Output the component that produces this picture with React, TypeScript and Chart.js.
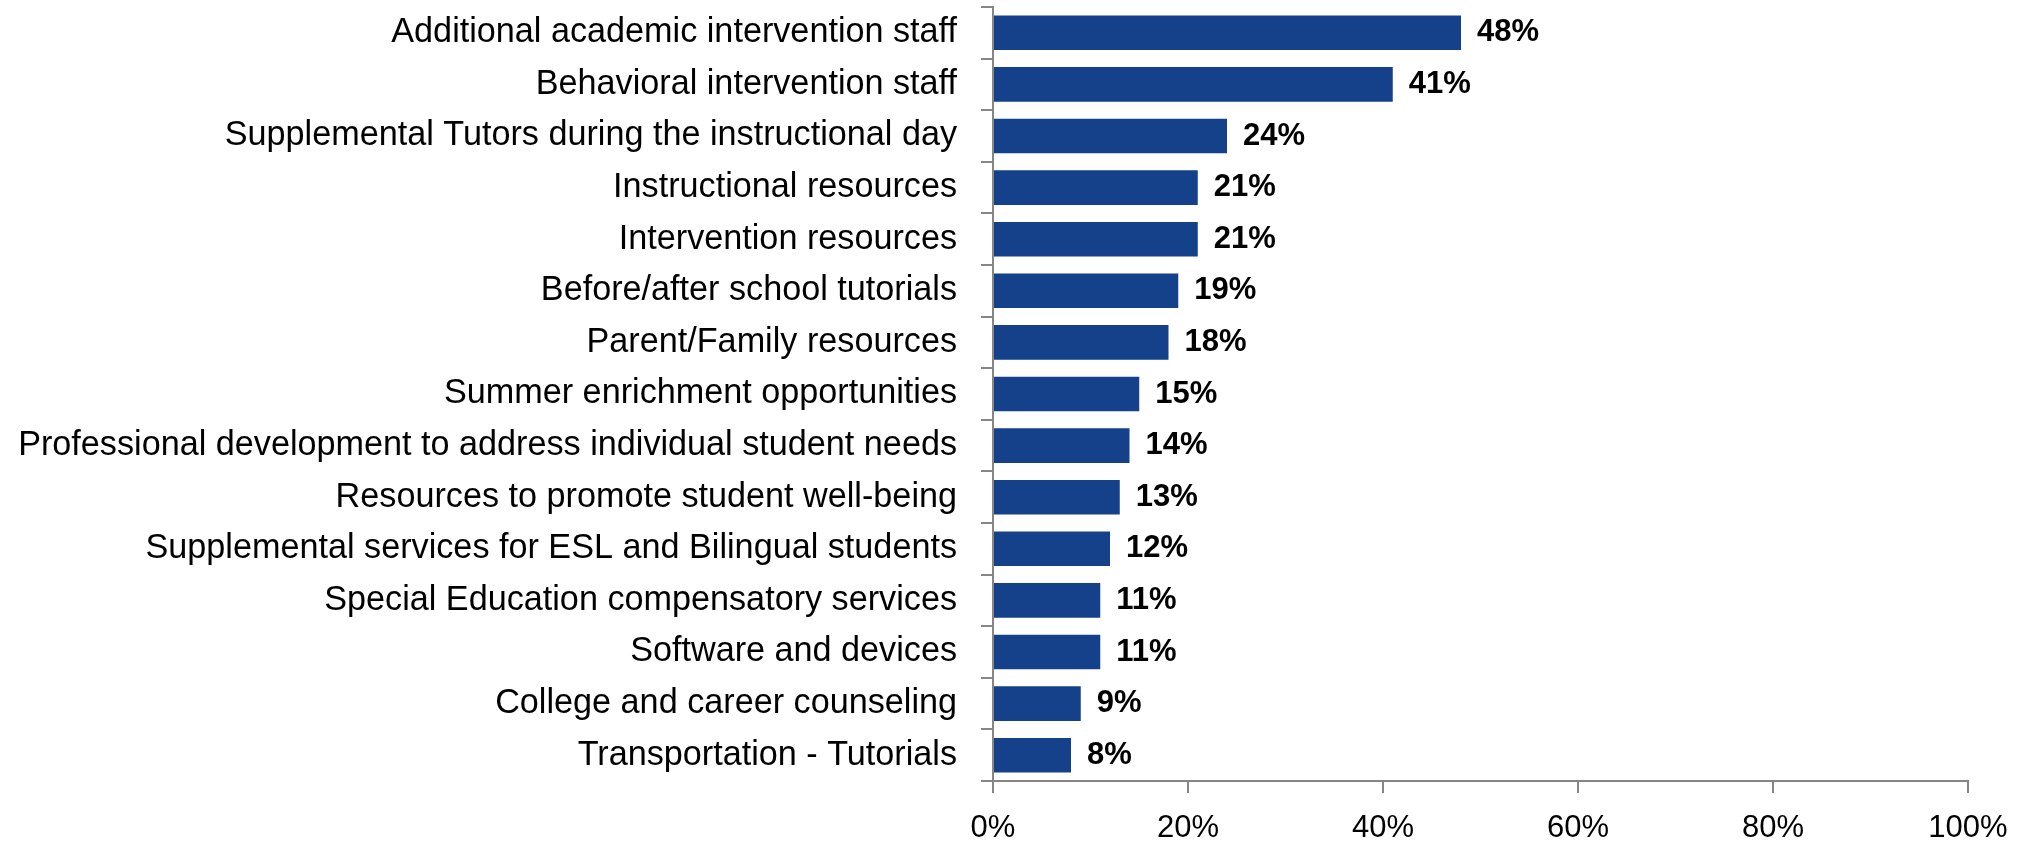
import React, { useEffect, useRef } from "react";
import { Chart, registerables } from "chart.js";

Chart.register(...registerables);

const categories = [
  "Additional academic intervention staff",
  "Behavioral intervention staff",
  "Supplemental Tutors during the instructional day",
  "Instructional resources",
  "Intervention resources",
  "Before/after school tutorials",
  "Parent/Family resources",
  "Summer enrichment opportunities",
  "Professional development to address individual student needs",
  "Resources to promote student well-being",
  "Supplemental services for ESL and Bilingual students",
  "Special Education compensatory services",
  "Software and devices",
  "College and career counseling",
  "Transportation - Tutorials",
];

const values = [48, 41, 24, 21, 21, 19, 18, 15, 14, 13, 12, 11, 11, 9, 8];

const xTickValues = [0, 20, 40, 60, 80, 100];

const FONT = "'Liberation Sans', Arial, sans-serif";
const AXIS_GRAY = "#868686";
const BAR_BLUE = "#14418a";

export default function App() {
  const ref = useRef<HTMLCanvasElement>(null);

  useEffect(() => {
    if (!ref.current) return;
    const valueLabels = {
      id: "valueLabels",
      afterDatasetsDraw(chart: any) {
        const ctx = chart.ctx;
        const meta = chart.getDatasetMeta(0);
        ctx.save();
        ctx.font = `bold 31px ${FONT}`;
        ctx.fillStyle = "#000";
        ctx.textAlign = "left";
        ctx.textBaseline = "middle";
        meta.data.forEach((bar: any, i: number) => {
          ctx.fillText(`${values[i]}%`, bar.x + 16, bar.y);
        });
        ctx.restore();
      },
    };

    const chart = new Chart(ref.current, {
      type: "bar",
      data: {
        labels: categories,
        datasets: [
          {
            data: values,
            backgroundColor: BAR_BLUE,
            borderWidth: 0,
            barPercentage: 0.67,
            categoryPercentage: 1,
          },
        ],
      },
      options: {
        indexAxis: "y",
        responsive: false,
        maintainAspectRatio: false,
        animation: false,
        layout: { padding: { left: 0, top: 7, right: 60, bottom: 0 } },
        plugins: {
          legend: { display: false },
          tooltip: { enabled: false },
        },
        scales: {
          x: {
            type: "linear",
            min: 0,
            max: 100,
            afterBuildTicks: (scale: any) => {
              scale.ticks = xTickValues.map((v) => ({ value: v }));
            },
            ticks: {
              callback: (v: any) => `${v}%`,
              font: { family: FONT, size: 31 },
              color: "#000",
              padding: 17,
              maxRotation: 0,
            },
            grid: {
              drawOnChartArea: false,
              drawTicks: true,
              tickLength: 12,
              color: AXIS_GRAY,
              lineWidth: 2,
            },
            border: { display: true, color: AXIS_GRAY, width: 2 },
            afterFit: (s: any) => {
              s.height = 64;
              s.paddingLeft = 0;
              s.paddingRight = 0;
            },
          },
          y: {
            ticks: {
              font: { family: FONT, size: 34.2 },
              color: "#000",
              padding: 24,
              autoSkip: false,
            },
            grid: {
              drawOnChartArea: false,
              drawTicks: true,
              tickLength: 12,
              color: AXIS_GRAY,
              lineWidth: 2,
              offset: true,
            },
            border: { display: true, color: AXIS_GRAY, width: 2 },
            afterFit: (s: any) => {
              s.width = 993;
              s.paddingTop = 0;
              s.paddingBottom = 0;
            },
          },
        },
      },
      plugins: [valueLabels],
    } as any);

    return () => chart.destroy();
  }, []);

  return (
    <div style={{ position: "absolute", left: 0, top: 0, width: 2028, height: 845, background: "#fff" }}>
      <canvas ref={ref} width={2028} height={845} style={{ display: "block" }} />
    </div>
  );
}
